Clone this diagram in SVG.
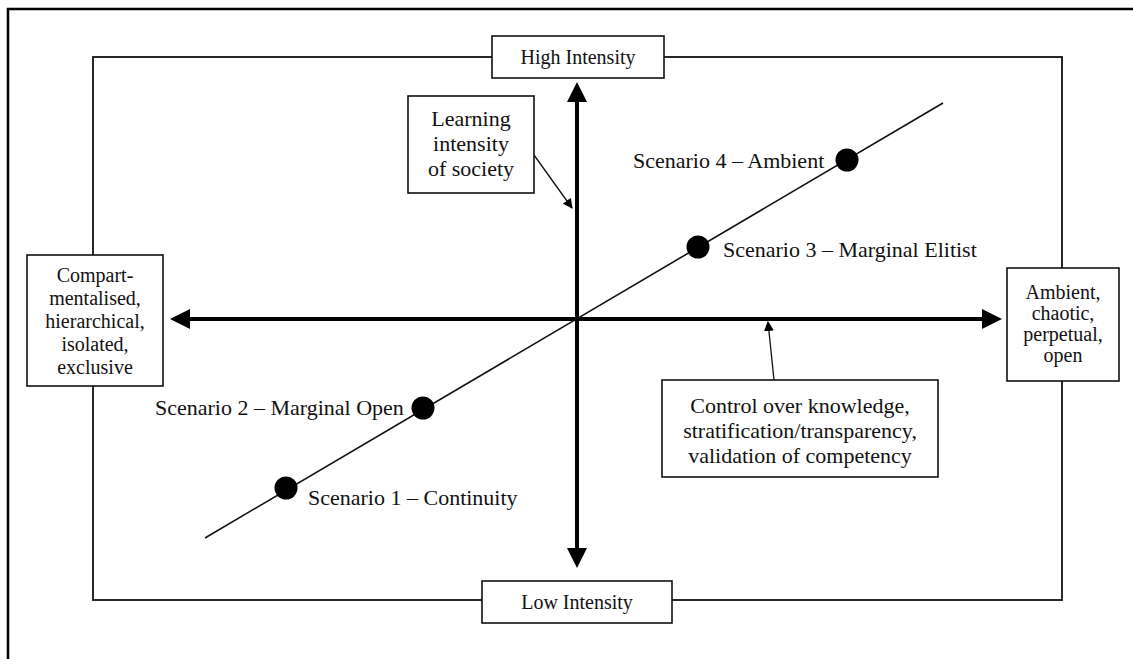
<svg xmlns="http://www.w3.org/2000/svg" width="1133" height="659" viewBox="0 0 1133 659">
  <style>
    text { font-family: "Liberation Serif", "Times New Roman", serif; fill: #111; }
    .box { fill: #fff; stroke: #111; stroke-width: 1.6; }
    .lbl { font-size: 20px; text-anchor: middle; }
    .big { font-size: 22px; text-anchor: middle; }
    .scn { font-size: 22px; }
    .axis { stroke: #000; stroke-width: 4; fill: none; }
    .thin { stroke: #111; stroke-width: 1.3; fill: none; }
  </style>
  <defs>
    <marker id="tip" viewBox="0 0 10 10" refX="9" refY="5" markerWidth="10" markerHeight="10" markerUnits="userSpaceOnUse" orient="auto">
      <path d="M0,0 L10,5 L0,10 z" fill="#000"/>
    </marker>
  </defs>

  <rect width="1133" height="659" fill="#fff"/>

  <!-- page frame -->
  <path d="M8,660 L8,9 L1140,9" fill="none" stroke="#000" stroke-width="2.5"/>

  <!-- inner field -->
  <rect x="93" y="57" width="969" height="543" fill="none" stroke="#111" stroke-width="1.8"/>

  <g id="connectors">
    <!-- axes -->
    <line class="axis" x1="577" y1="100" x2="577" y2="550"/>
    <polygon points="577,82 567,102 587,102" fill="#000"/>
    <polygon points="577,568 567,548 587,548" fill="#000"/>
    <line class="axis" x1="188" y1="319" x2="984" y2="319"/>
    <polygon points="170,319 190,309 190,329" fill="#000"/>
    <polygon points="1002,319 982,309 982,329" fill="#000"/>
    <!-- scenario line -->
    <line x1="205" y1="538" x2="943" y2="103" stroke="#111" stroke-width="1.6"/>
    <!-- callout pointers -->
    <line class="thin" x1="534" y1="155" x2="572" y2="208" marker-end="url(#tip)"/>
    <line class="thin" x1="774" y1="380" x2="768" y2="322" marker-end="url(#tip)"/>
  </g>

  <g id="high-intensity">
    <rect class="box" x="492" y="36" width="172" height="42"/>
    <text class="lbl" x="578" y="64">High Intensity</text>
  </g>

  <g id="low-intensity">
    <rect class="box" x="482" y="581" width="190" height="42"/>
    <text class="lbl" x="577" y="609">Low Intensity</text>
  </g>

  <g id="left-pole">
    <rect class="box" x="27" y="255" width="136" height="131"/>
    <text class="lbl" x="95" y="282">Compart-</text>
    <text class="lbl" x="95" y="305">mentalised,</text>
    <text class="lbl" x="95" y="328">hierarchical,</text>
    <text class="lbl" x="95" y="351">isolated,</text>
    <text class="lbl" x="95" y="374">exclusive</text>
  </g>

  <g id="right-pole">
    <rect class="box" x="1007" y="268" width="112" height="113"/>
    <text class="lbl" x="1063" y="299">Ambient,</text>
    <text class="lbl" x="1063" y="320">chaotic,</text>
    <text class="lbl" x="1063" y="341">perpetual,</text>
    <text class="lbl" x="1063" y="362">open</text>
  </g>

  <g id="learning-intensity">
    <rect class="box" x="408" y="96" width="126" height="97"/>
    <text class="big" x="471" y="126">Learning</text>
    <text class="big" x="471" y="151">intensity</text>
    <text class="big" x="471" y="176">of society</text>
  </g>

  <g id="control">
    <rect class="box" x="662" y="380" width="276" height="97"/>
    <text class="big" x="800" y="413">Control over knowledge,</text>
    <text class="big" x="800" y="438">stratification/transparency,</text>
    <text class="big" x="800" y="463">validation of competency</text>
  </g>

  <g id="scenario-1">
    <circle cx="286" cy="488" r="11.5" fill="#000"/>
    <text class="scn" x="308" y="505">Scenario 1 – Continuity</text>
  </g>

  <g id="scenario-2">
    <circle cx="423" cy="408" r="11.5" fill="#000"/>
    <text class="scn" x="155" y="415">Scenario 2 – Marginal Open</text>
  </g>

  <g id="scenario-3">
    <circle cx="698" cy="247" r="11.5" fill="#000"/>
    <text class="scn" x="723" y="257">Scenario 3 – Marginal Elitist</text>
  </g>

  <g id="scenario-4">
    <circle cx="847" cy="160" r="11.5" fill="#000"/>
    <text class="scn" x="633" y="168">Scenario 4 – Ambient</text>
  </g>
</svg>
